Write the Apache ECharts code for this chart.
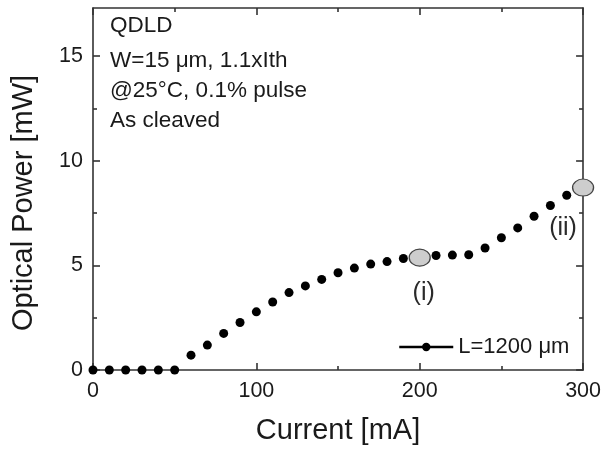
<!DOCTYPE html>
<html>
<head>
<meta charset="utf-8">
<script src="https://cdn.jsdelivr.net/npm/echarts@6/dist/echarts.min.js"></script>
<style>
  html, body { margin: 0; padding: 0; background: #ffffff; }
  #chart { width: 604px; height: 450px; }
</style>
</head>
<body>
<div id="chart"></div>
<script>
// Light-current (L-I) characteristic of a quantum-dot laser diode, L = 1200 µm.
const currentMA = [0, 10, 20, 30, 40, 50, 60, 70, 80, 90, 100, 110, 120, 130, 140, 150,
                   160, 170, 180, 190, 200, 210, 220, 230, 240, 250, 260, 270, 280, 290, 300];
const powerMW = [0, 0, 0, 0, 0, 0, 0.71, 1.19, 1.75, 2.27, 2.78, 3.25, 3.70, 4.02, 4.33, 4.65,
                 4.87, 5.06, 5.18, 5.33, 5.37, 5.47, 5.49, 5.51, 5.83, 6.32, 6.79, 7.35, 7.86, 8.35, 8.72];

// Operating points highlighted on the curve
const markedCurrent = [200, 300];
const markedPower = [5.37, 8.72];
const markedNames = ['(i)', '(ii)'];

// Axis ranges and tick values
const xRange = [0, 300];
const yRange = [0, 17.3];
const xTicks = [0, 100, 200, 300];
const xMinorTicks = [50, 150, 250];
const yTicks = [0, 5, 10, 15];
const yMinorTicks = [2.5, 7.5, 12.5];

const xTitle = 'Current [mA]';
const yTitle = 'Optical Power [mW]';
const seriesName = 'L=1200 μm';
const infoHead = 'QDLD';
const infoLines = ['W=15 μm, 1.1xIth', '@25°C, 0.1% pulse', 'As cleaved'];

const FONT = "'Liberation Sans', Arial, sans-serif";
const INK = '#1a1a1a';
const AXIS = '#333333';

function frameAxis(range, position, ticks, tickLen, showLine, extra) {
  return Object.assign({
    type: 'value',
    position: position,
    min: range[0],
    max: range[1],
    axisLine: { show: showLine, onZero: false, lineStyle: { color: AXIS, width: 1.6 } },
    axisTick: { show: true, inside: true, length: tickLen, customValues: ticks,
                lineStyle: { color: AXIS, width: 1.6 } },
    axisLabel: { show: false },
    splitLine: { show: false },
    minorTick: { show: false },
    silent: true
  }, extra || {});
}

const chart = echarts.init(document.getElementById('chart'), null, { renderer: 'canvas' });

chart.setOption({
  animation: false,
  backgroundColor: '#ffffff',
  textStyle: { fontFamily: FONT },
  grid: { left: 93, right: 20, top: 8, bottom: 79, containLabel: false },
  title: [
    { text: infoHead, left: 110, top: 11, padding: 0,
      textStyle: { fontFamily: FONT, fontSize: 22.5, fontWeight: 'normal', color: INK, lineHeight: 30 } },
    { text: infoLines.join('\n'), left: 110, top: 46, padding: 0,
      textStyle: { fontFamily: FONT, fontSize: 22.5, fontWeight: 'normal', color: INK, lineHeight: 30 } }
  ],
  legend: {
    data: [seriesName],
    left: 398,
    top: 336,
    padding: 0,
    itemWidth: 54,
    itemHeight: 10.5,
    selectedMode: false,
    lineStyle: { width: 2.5, opacity: 1, color: '#000000' },
    textStyle: { fontFamily: FONT, fontSize: 22, color: INK }
  },
  xAxis: [
    frameAxis(xRange, 'bottom', xTicks, 7, true, {
      axisLabel: { show: true, customValues: xTicks, margin: 10, fontSize: 21.5,
                   fontFamily: FONT, color: INK },
      name: xTitle,
      nameLocation: 'middle',
      nameGap: 46,
      nameTextStyle: { fontFamily: FONT, fontSize: 29, color: INK }
    }),
    frameAxis(xRange, 'bottom', xMinorTicks, 4, false),
    frameAxis(xRange, 'top', xTicks, 7, true),
    frameAxis(xRange, 'top', xMinorTicks, 4, false)
  ],
  yAxis: [
    frameAxis(yRange, 'left', yTicks, 7, true, {
      axisLabel: { show: true, customValues: yTicks, margin: 10, fontSize: 21.5,
                   fontFamily: FONT, color: INK },
      name: yTitle,
      nameLocation: 'middle',
      nameGap: 55,
      nameTextStyle: { fontFamily: FONT, fontSize: 29, color: INK, padding: [0, 28, 0, 0] }
    }),
    frameAxis(yRange, 'left', yMinorTicks, 4, false),
    frameAxis(yRange, 'right', yTicks, 7, true),
    frameAxis(yRange, 'right', yMinorTicks, 4, false)
  ],
  series: [
    {
      name: seriesName,
      type: 'line',
      xAxisIndex: 0,
      yAxisIndex: 0,
      data: currentMA.map((c, i) => [c, powerMW[i]]),
      symbol: 'circle',
      symbolSize: 9,
      showAllSymbol: true,
      itemStyle: { color: '#000000', opacity: 1 },
      lineStyle: { width: 0, opacity: 0 },
      clip: false,
      z: 3
    },
    {
      name: 'marked',
      type: 'scatter',
      xAxisIndex: 0,
      yAxisIndex: 0,
      data: markedCurrent.map((c, i) => ({
        value: [c, markedPower[i]],
        label: { offset: i === 0 ? [4, 35] : [-20, 41] }
      })),
      symbol: 'circle',
      symbolSize: [21, 17],
      itemStyle: { color: '#cdcdcd', borderColor: '#444444', borderWidth: 1.2, opacity: 1 },
      label: {
        show: true,
        position: 'inside',
        formatter: (p) => markedNames[p.dataIndex],
        fontFamily: FONT,
        fontSize: 25,
        color: '#2a2a2a'
      },
      clip: false,
      silent: true,
      z: 5
    }
  ]
});
</script>
</body>
</html>
